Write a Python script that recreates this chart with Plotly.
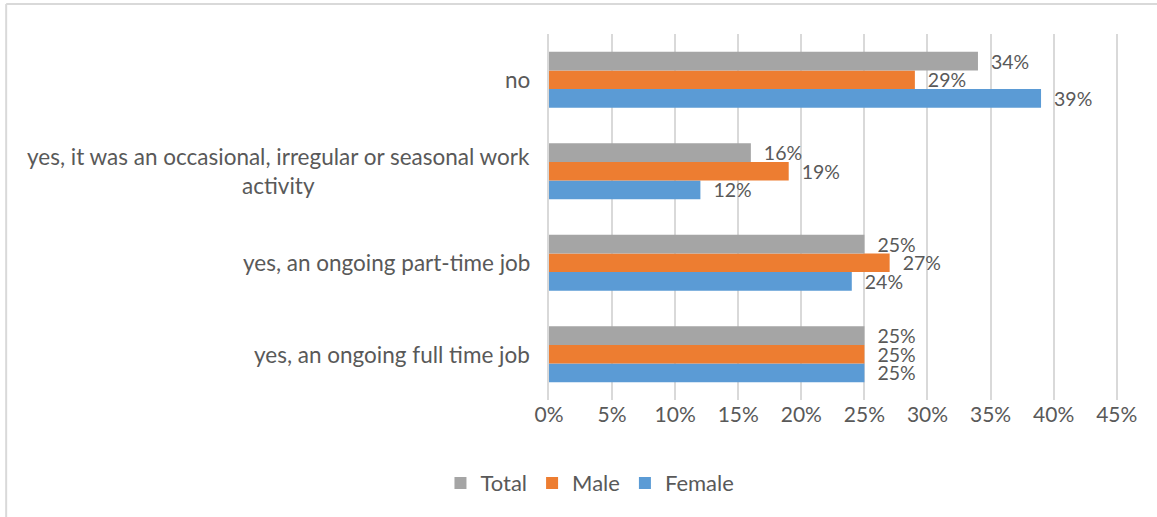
import plotly.graph_objects as go

# categories from bottom to top
categories = [
    "yes, an ongoing full time job",
    "yes, an ongoing part-time job",
    "yes, it was an occasional, irregular or seasonal work<br>activity",
    "no",
]
female = [25, 24, 12, 39]
male = [25, 27, 19, 29]
total = [25, 25, 16, 34]
tick_vals = [0, 5, 10, 15, 20, 25, 30, 35, 40, 45]

txt = "#595959"
fnt = "Lato"

fig = go.Figure()
for name, vals, col in [("Female", female, "#5B9BD5"),
                        ("Male", male, "#ED7D31"),
                        ("Total", total, "#A5A5A5")]:
    fig.add_trace(go.Bar(
        y=categories, x=vals, name=name, orientation="h",
        marker=dict(color=col, line=dict(width=0)),
        text=[f"\u00a0\u00a0{v}%" for v in vals],
        textposition="outside", cliponaxis=False, constraintext="none",
        textfont=dict(size=19.5, color=txt, family=fnt),
    ))

# category labels (centred multi-line like the original)
for c in categories:
    fig.add_annotation(x=0, y=c, xref="paper", yref="y", text=c,
                       xanchor="right", align="center", xshift=-17,
                       showarrow=False, font=dict(size=22.5, color=txt, family=fnt))

# chart border (only top and left edges are visible in the crop)
fig.add_shape(type="line", xref="paper", yref="paper",
              x0=-0.954, x1=1.1, y0=1.082, y1=1.082,
              line=dict(color="#D9D9D9", width=2))
fig.add_shape(type="line", xref="paper", yref="paper",
              x0=-0.954, x1=-0.954, y0=-0.4, y1=1.082,
              line=dict(color="#D9D9D9", width=2))

fig.update_layout(
    width=1157, height=517,
    margin=dict(l=549, r=39, t=34, b=117),
    barmode="group", bargap=0.39, bargroupgap=0,
    plot_bgcolor="white", paper_bgcolor="white",
    font=dict(family=fnt, size=21, color=txt),
    xaxis=dict(range=[0, 45.1], tickvals=tick_vals,
               ticktext=[f"{v}%" for v in tick_vals],
               showgrid=True, gridcolor="#D9D9D9", gridwidth=2,
               zeroline=False, showline=False, ticks="", ticklen=0,
               tickfont=dict(size=21, color=txt, family=fnt)),
    yaxis=dict(showticklabels=False, showgrid=False, zeroline=False,
               showline=True, linecolor="#D9D9D9", linewidth=2),
    legend=dict(orientation="h", x=0.072, xanchor="center", y=-0.227,
                yanchor="middle", traceorder="reversed",
                font=dict(size=22, color=txt, family=fnt)),
)

# drop the default page margin so the figure sits at the window's corner
fig.write_html("out.html", config={"displayModeBar": False},
               post_script="document.body.style.margin='0';")
